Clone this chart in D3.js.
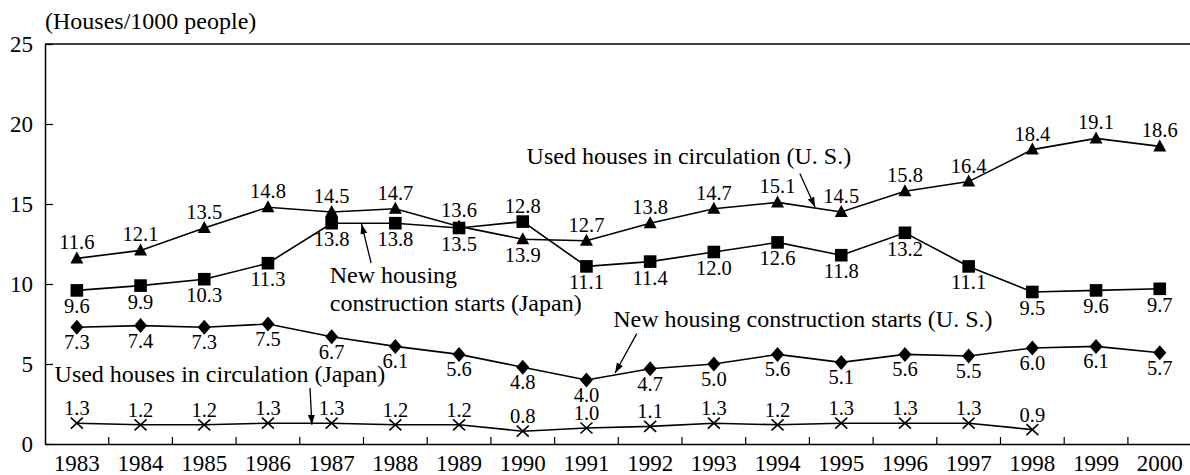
<!DOCTYPE html>
<html>
<head>
<meta charset="utf-8">
<script src="https://cdn.jsdelivr.net/npm/d3@7"></script>
<style>
  body { margin: 0; background: #fff; }
  svg { display: block; font-family: "Liberation Serif", "DejaVu Serif", serif; }
</style>
</head>
<body>
<svg id="chart" width="1190" height="475"></svg>
<script>
// data
const years = [1983, 1984, 1985, 1986, 1987, 1988, 1989, 1990, 1991, 1992, 1993, 1994, 1995, 1996, 1997, 1998, 1999, 2000];
const usedUS    = [11.6, 12.1, 13.5, 14.8, 14.5, 14.7, 13.6, 12.8, 12.7, 13.8, 14.7, 15.1, 14.5, 15.8, 16.4, 18.4, 19.1, 18.6];
const newJapan  = [9.6, 9.9, 10.3, 11.3, 13.8, 13.8, 13.5, 13.9, 11.1, 11.4, 12.0, 12.6, 11.8, 13.2, 11.1, 9.5, 9.6, 9.7];
const newUS     = [7.3, 7.4, 7.3, 7.5, 6.7, 6.1, 5.6, 4.8, 4.0, 4.7, 5.0, 5.6, 5.1, 5.6, 5.5, 6.0, 6.1, 5.7];
const usedJapan = [1.3, 1.2, 1.2, 1.3, 1.3, 1.2, 1.2, 0.8, 1.0, 1.1, 1.3, 1.2, 1.3, 1.3, 1.3, 0.9];
const yTicks = [0, 5, 10, 15, 20, 25];

const svg = d3.select("#chart");
const plotLeft = 45, step = 63.7, plotBottom = 444, plotTop = 44;

const x = d3.scaleBand().domain(years).range([plotLeft, plotLeft + step * years.length]);
const y = d3.scaleLinear().domain([0, 25]).range([plotBottom, plotTop]);
const cx = d => x(d) + x.bandwidth() / 2;
// index -> pixel, for annotations placed between points
const xi = d3.scaleLinear().domain([0, years.length - 1]).range([cx(years[0]), cx(years[years.length - 1])]);

const fmt = d3.format(".1f");

// frame top
svg.append("line")
  .attr("x1", plotLeft).attr("x2", x.range()[1])
  .attr("y1", y(25)).attr("y2", y(25))
  .attr("stroke", "#000").attr("stroke-width", 1.5);

// y axis
const gy = svg.append("g")
  .attr("transform", `translate(${plotLeft},0)`)
  .call(d3.axisLeft(y).tickValues(yTicks).tickSizeInner(-8).tickSizeOuter(0).tickPadding(12));
gy.select(".domain").attr("stroke-width", 1.5);
gy.selectAll(".tick line").attr("stroke-width", 1.2);
gy.selectAll("text").style("font-size", "23px").style("font-family", "Liberation Serif");

// x axis
const gx = svg.append("g")
  .attr("transform", `translate(0,${plotBottom})`)
  .call(d3.axisBottom(x).tickSize(0).tickPadding(11));
gx.select(".domain").attr("stroke-width", 1.5);
gx.selectAll("text").style("font-size", "23px").style("font-family", "Liberation Serif");
svg.append("g").selectAll("line")
  .data(years.slice(1))
  .enter().append("line")
    .attr("x1", d => x(d)).attr("x2", d => x(d))
    .attr("y1", plotBottom).attr("y2", plotBottom - 7)
    .attr("stroke", "#000").attr("stroke-width", 1.2);

// unit label
svg.append("text")
  .attr("x", plotLeft).attr("y", 29)
  .style("font-size", "24px")
  .text("(Houses/1000 people)");

// series
const series = [
  { vals: usedUS, sym: "tri" },
  { vals: newJapan, sym: "sq" },
  { vals: newUS, sym: "dia" },
  { vals: usedJapan, sym: "x" }
];

const line = d3.line().x((d, i) => cx(years[i])).y(d => y(d));

series.forEach(s => {
  svg.append("path")
    .attr("d", line(s.vals))
    .attr("fill", "none").attr("stroke", "#000").attr("stroke-width", 1.6);

  const g = svg.append("g");
  s.vals.forEach((v, i) => {
    const px = cx(years[i]), py = y(v);
    if (s.sym === "tri") {
      g.append("path").attr("d", `M${px},${py - 7}L${px + 6.5},${py + 5}L${px - 6.5},${py + 5}Z`).attr("fill", "#000");
    } else if (s.sym === "sq") {
      g.append("rect").attr("x", px - 6.3).attr("y", py - 6.3).attr("width", 12.6).attr("height", 12.6).attr("fill", "#000");
    } else if (s.sym === "dia") {
      g.append("path").attr("d", `M${px},${py - 7.5}L${px + 6.5},${py}L${px},${py + 7.5}L${px - 6.5},${py}Z`).attr("fill", "#000");
    } else {
      g.append("path").attr("d", `M${px - 6},${py - 5.5}L${px + 6},${py + 5.5}M${px + 6},${py - 5.5}L${px - 6},${py + 5.5}`)
        .attr("stroke", "#000").attr("stroke-width", 1.6).attr("fill", "none");
    }
  });
});

// value labels: upper pair uses max/min of the two close series
const labels = svg.append("g").style("font-size", "20.5px").attr("text-anchor", "middle");
years.forEach((yr, i) => {
  const hi = Math.max(usedUS[i], newJapan[i]);
  const lo = Math.min(usedUS[i], newJapan[i]);
  labels.append("text").attr("x", cx(yr)).attr("y", y(hi) - 9).text(fmt(usedUS[i]));
  labels.append("text").attr("x", cx(yr)).attr("y", y(lo) + 23).text(fmt(newJapan[i]));
  labels.append("text").attr("x", cx(yr)).attr("y", y(newUS[i]) + 22).text(fmt(newUS[i]));
  if (i < usedJapan.length)
    labels.append("text").attr("x", cx(yr)).attr("y", y(usedJapan[i]) - 8).text(fmt(usedJapan[i]));
});

// annotations
svg.append("defs").append("marker")
  .attr("id", "arrow").attr("viewBox", "0 0 10 10")
  .attr("refX", 10).attr("refY", 5)
  .attr("markerWidth", 10).attr("markerHeight", 10)
  .attr("markerUnits", "userSpaceOnUse")
  .attr("orient", "auto")
  .append("path").attr("d", "M0,1.5L10,5L0,8.5Z").attr("fill", "#000");

const notes = [
  { lines: ["Used houses in circulation (U. S.)"], t: 7.06, v: 17.5, from: [11.35, 16.9], to: [11.59, 14.8] },
  { lines: ["New housing", "construction starts (Japan)"], t: 3.97, v: 10.06, from: [4.62, 11.3], to: [4.47, 13.75] },
  { lines: ["New housing construction starts (U. S.)"], t: 8.42, v: 7.33, from: [8.79, 6.9], to: [8.45, 4.44] },
  { lines: ["Used houses in circulation (Japan)"], t: -0.35, v: 3.89, from: [3.66, 3.5], to: [3.69, 1.2] }
];

notes.forEach(n => {
  const t = svg.append("text")
    .attr("x", xi(n.t)).attr("y", y(n.v))
    .style("font-size", "24px");
  n.lines.forEach((l, k) => {
    t.append("tspan").attr("x", xi(n.t)).attr("dy", k === 0 ? 0 : 28).text(l);
  });
  svg.append("line")
    .attr("x1", xi(n.from[0])).attr("y1", y(n.from[1]))
    .attr("x2", xi(n.to[0])).attr("y2", y(n.to[1]))
    .attr("stroke", "#000").attr("stroke-width", 1.3)
    .attr("marker-end", "url(#arrow)");
});
</script>
</body>
</html>
